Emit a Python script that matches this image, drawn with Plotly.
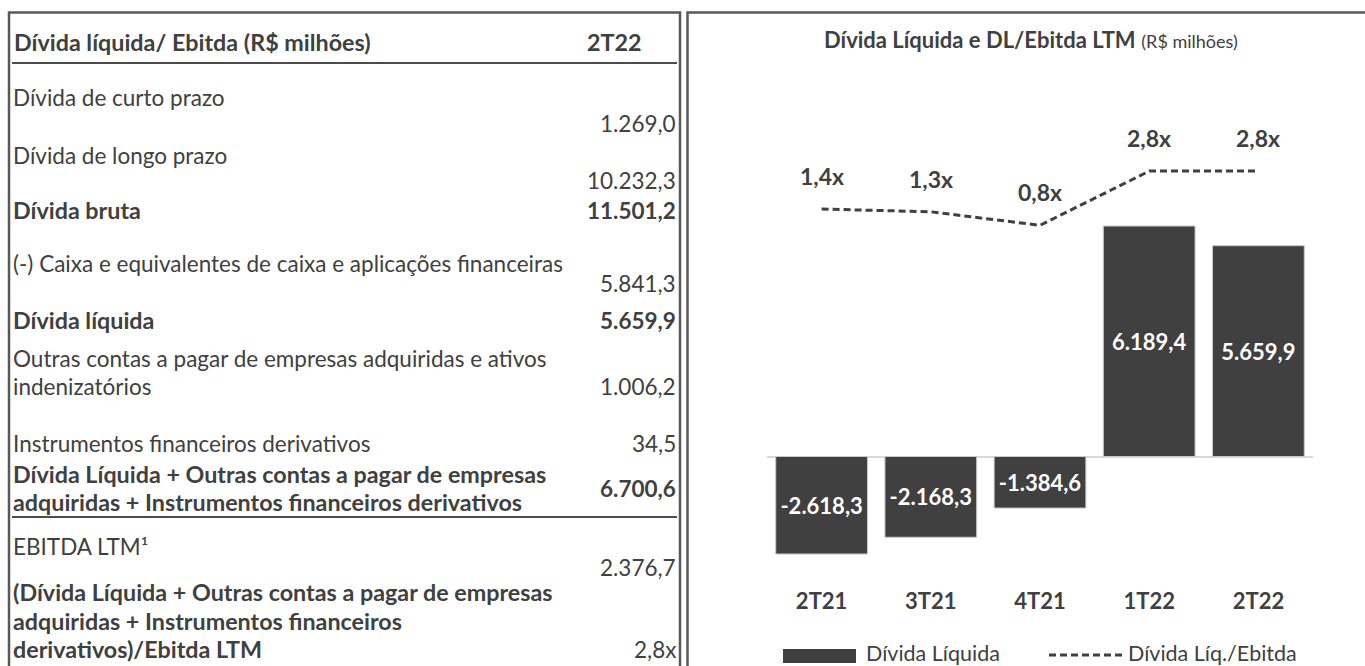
import plotly.graph_objects as go

# ---------------- data ----------------
categories = ["2T21", "3T21", "4T21", "1T22", "2T22"]
net_debt = [-2618.3, -2168.3, -1384.6, 6189.4, 5659.9]
net_debt_labels = ["-2.618,3", "-2.168,3", "-1.384,6", "6.189,4", "5.659,9"]
ratio = [1.4, 1.3, 0.8, 2.8, 2.8]
ratio_labels = ["1,4x", "1,3x", "0,8x", "2,8x", "2,8x"]

table_header = ["Dívida líquida/ Ebitda (R$ milhões)", "2T22"]
row_labels = [
    ["Dívida de curto prazo"],
    ["Dívida de longo prazo"],
    ["Dívida bruta"],
    ["(-) Caixa e equivalentes de caixa e aplicações financeiras"],
    ["Dívida líquida"],
    ["Outras contas a pagar de empresas adquiridas e ativos", "indenizatórios"],
    ["Instrumentos financeiros derivativos"],
    ["Dívida Líquida + Outras contas a pagar de empresas",
     "adquiridas + Instrumentos financeiros derivativos"],
    ["EBITDA LTM¹"],
    ["(Dívida Líquida + Outras contas a pagar de empresas",
     "adquiridas + Instrumentos financeiros",
     "derivativos)/Ebitda LTM"],
]
row_values = ["1.269,0", "10.232,3", "11.501,2", "5.841,3", "5.659,9",
              "1.006,2", "34,5", "6.700,6", "2.376,7", "2,8x"]
label_bold = [False, False, True, False, True, False, False, True, False, True]
value_bold = [False, False, True, False, True, False, False, True, False, False]

# ---------------- layout helpers (pixel -> paper) ----------------
W, H = 1365, 666
def fx(x):
    return x / W
def fy(y):
    return 1 - y / H

FONT = "Lato, 'Source Sans Pro', Roboto, sans-serif"
TXT = "#404040"
TS = 22.5    # table regular font size
TSB = 23.3   # table bold font size

# row layout (pixel y of first line / value)
label_y = [97, 155, 210, 264, 320, 358, 443, 474, 546, 592]
value_y = [123, 180, 210, 283, 320, 386, 443, 488, 567, 649]
LINE_H = 28.5

annotations = []
shapes = []

# table header
annotations.append(dict(x=fx(12), y=fy(42), xref="paper", yref="paper", xanchor="left",
                        yanchor="middle", showarrow=False, text="<b>%s</b>" % table_header[0],
                        font=dict(family=FONT, size=TSB, color=TXT)))
annotations.append(dict(x=fx(614), y=fy(42), xref="paper", yref="paper", xanchor="center",
                        yanchor="middle", showarrow=False, text="<b>%s</b>" % table_header[1],
                        font=dict(family=FONT, size=TSB, color=TXT)))

for lab, val, lb, vb, ly, vy in zip(row_labels, row_values, label_bold, value_bold,
                                    label_y, value_y):
    for i, line in enumerate(lab):
        t = "<b>%s</b>" % line if lb else line
        annotations.append(dict(x=fx(11), y=fy(ly + i * LINE_H), xref="paper", yref="paper",
                                xanchor="left", yanchor="middle", showarrow=False, text=t,
                                font=dict(family=FONT, size=TSB if lb else TS, color=TXT)))
    t = "<b>%s</b>" % val if vb else val
    annotations.append(dict(x=fx(678), y=fy(vy), xref="paper", yref="paper",
                            xanchor="right", yanchor="middle", showarrow=False, text=t,
                            font=dict(family=FONT, size=TS, color=TXT)))

# table rules
shapes.append(dict(type="line", xref="paper", yref="paper", x0=fx(12), x1=fx(677),
                   y0=fy(63), y1=fy(63), line=dict(color="#111111", width=1.5)))
shapes.append(dict(type="line", xref="paper", yref="paper", x0=fx(12), x1=fx(677),
                   y0=fy(517), y1=fy(517), line=dict(color="#111111", width=1.5)))
# boxes
shapes.append(dict(type="rect", xref="paper", yref="paper", x0=fx(9), x1=fx(680),
                   y0=fy(700), y1=fy(12.5), line=dict(color="#595959", width=2.5)))
shapes.append(dict(type="rect", xref="paper", yref="paper", x0=fx(687.5), x1=fx(1380),
                   y0=fy(700), y1=fy(12.5), line=dict(color="#595959", width=2.5)))

# chart title
annotations.append(dict(x=fx(1031), y=fy(40), xref="paper", yref="paper", xanchor="center",
                        yanchor="middle", showarrow=False,
                        text="<b>Dívida Líquida e DL/Ebitda LTM</b> <span style='font-size:18px'>(R$ milhões)</span>",
                        font=dict(family=FONT, size=22, color=TXT)))

# ratio labels
for c, v, t in zip(categories, ratio, ratio_labels):
    annotations.append(dict(x=c, y=v, xref="x", yref="y2", yshift=33, showarrow=False,
                            text="<b>%s</b>" % t, font=dict(family=FONT, size=23, color=TXT)))

# custom legend
shapes.append(dict(type="rect", xref="paper", yref="paper", x0=fx(783), x1=fx(856),
                   y0=fy(663), y1=fy(649), fillcolor="#404040", line=dict(width=0)))
annotations.append(dict(x=fx(864), y=fy(653), xref="paper", yref="paper", xanchor="left",
                        yanchor="middle", showarrow=False, text="Dívida Líquida",
                        font=dict(family=FONT, size=21.5, color=TXT)))
shapes.append(dict(type="line", xref="paper", yref="paper", x0=fx(1049), x1=fx(1124),
                   y0=fy(655), y1=fy(655), line=dict(color="#404040", width=3, dash="7px,4px")))
annotations.append(dict(x=fx(1126), y=fy(653), xref="paper", yref="paper", xanchor="left",
                        yanchor="middle", showarrow=False, text="Dívida Líq./Ebitda",
                        font=dict(family=FONT, size=21.5, color=TXT)))

# ---------------- axis geometry ----------------
zero_px = 456.5
k_bar = (zero_px - 226) / 6189.4          # px per R$ mi
top_px, bot_px = 100, 586
y_range = [-(bot_px - zero_px) / k_bar, (zero_px - top_px) / k_bar]
zero2_px = 247.0
k_ratio = 27.1
y2_range = [-(bot_px - zero2_px) / k_ratio, (zero2_px - top_px) / k_ratio]

fig = go.Figure()
fig.add_trace(go.Bar(
    x=categories, y=net_debt, text=net_debt_labels, textposition="inside",
    insidetextanchor="middle", textangle=0, constraintext="none",
    textfont=dict(family=FONT, size=22, color="white", weight="bold"),
    marker=dict(color="#404040", line=dict(color="#c8c8c8", width=1)),
    showlegend=False, hoverinfo="skip", name="Dívida Líquida"))
fig.add_trace(go.Scatter(
    x=categories, y=ratio, yaxis="y2", mode="lines",
    line=dict(color="#404040", width=3, dash="7px,4px"),
    showlegend=False, hoverinfo="skip", name="Dívida Líq./Ebitda"))

fig.update_layout(
    width=W, height=H, margin=dict(l=0, r=0, t=0, b=0),
    paper_bgcolor="white", plot_bgcolor="white",
    bargap=0.16, showlegend=False,
    xaxis=dict(domain=[fx(767), fx(1313)], showgrid=False, showline=False, ticks="",
               tickfont=dict(family=FONT, size=22, color=TXT, weight="bold"),
               fixedrange=True),
    yaxis=dict(domain=[fy(bot_px), fy(top_px)], range=y_range, showgrid=False,
               showticklabels=False, zeroline=True, zerolinecolor="#d9d9d9",
               zerolinewidth=2, fixedrange=True),
    yaxis2=dict(domain=[fy(bot_px), fy(top_px)], range=y2_range, overlaying="y",
                showgrid=False, showticklabels=False, zeroline=False, fixedrange=True),
    annotations=annotations, shapes=shapes,
)

fig.write_html("out.html", config={"displayModeBar": False},
               post_script="document.body.style.margin='0';document.body.style.overflow='hidden';")
